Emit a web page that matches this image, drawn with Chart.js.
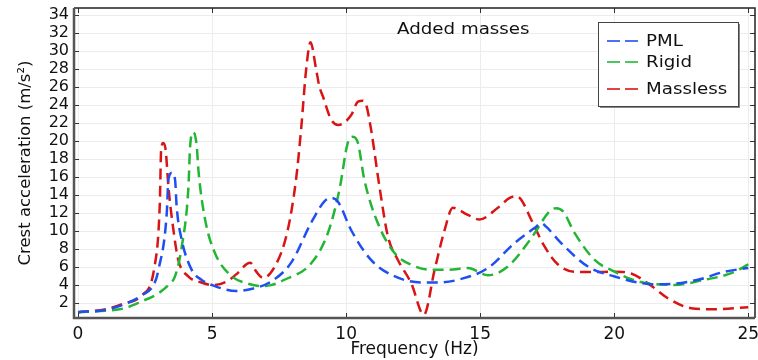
<!DOCTYPE html>
<html>
<head>
<meta charset="utf-8">
<script src="https://cdn.jsdelivr.net/npm/chart.js@4.4.1/dist/chart.umd.min.js"></script>
<style>
  html, body { margin: 0; padding: 0; background: #fff; }
  #wrap { width: 758px; height: 360px; }
</style>
</head>
<body>
<div id="wrap"><canvas id="chart"></canvas></div>
<script>
// PML
const pmlFreq  = [0, 1, 1.75, 2.4, 2.85, 3.0, 3.31, 3.37, 3.5, 3.62, 3.68, 3.87, 4.24, 4.6, 5.1, 5.9, 6.5, 7.2, 7.95, 8.69, 9.19, 9.44, 9.69, 10.19, 10.93, 11.8, 12.8, 13.5, 14.3, 15.29, 16.28, 17.09, 17.28, 17.46, 18.02, 19.02, 20.01, 21.26, 21.9, 23.12, 24.12, 25];
const pmlAccel = [1.0, 1.25, 1.9, 2.9, 4.2, 5.7, 12.0, 15.7, 16.5, 15.7, 12.7, 9.0, 5.7, 4.6, 3.9, 3.35, 3.6, 4.4, 6.5, 10.9, 13.3, 13.7, 13.3, 10.1, 6.8, 5.0, 4.3, 4.3, 4.7, 5.9, 8.67, 10.5, 10.9, 10.5, 8.67, 6.07, 4.96, 4.14, 4.1, 4.6, 5.5, 5.9];

// Rigid
const rigidFreq  = [0, 1, 1.75, 2.38, 3.0, 3.4, 3.62, 3.87, 4.12, 4.18, 4.3, 4.43, 4.49, 4.74, 5.11, 5.73, 6.3, 6.8, 7.2, 7.7, 8.69, 9.32, 9.75, 10.06, 10.25, 10.44, 10.68, 11.18, 11.8, 12.43, 13.17, 13.8, 14.54, 15.29, 16.03, 16.9, 17.59, 17.84, 18.09, 18.52, 19.27, 20.01, 20.63, 21.26, 22.25, 23.37, 24.37, 25];
const rigidAccel = [1.0, 1.15, 1.45, 2.2, 3.1, 4.1, 5.0, 8.3, 15.0, 19.4, 21.0, 19.4, 16.8, 11.3, 7.55, 5.0, 4.2, 3.9, 4.0, 4.6, 6.4, 9.8, 14.6, 19.8, 20.5, 19.8, 15.7, 10.9, 7.6, 6.26, 5.7, 5.7, 5.9, 5.1, 6.07, 9.2, 12.2, 12.56, 12.2, 9.8, 6.8, 5.5, 4.67, 4.2, 4.03, 4.6, 5.33, 6.3];

// Massless
const masslessFreq  = [0, 1, 1.75, 2.35, 2.85, 3.05, 3.1, 3.18, 3.27, 3.37, 3.56, 3.74, 4.1, 4.6, 5.05, 5.6, 5.9, 6.42, 6.65, 6.9, 7.4, 7.82, 8.13, 8.32, 8.51, 8.67, 8.88, 9.0, 9.13, 9.44, 9.71, 10.19, 10.44, 10.62, 10.75, 10.93, 11.24, 11.56, 11.93, 12.43, 12.9, 13.3, 13.67, 13.98, 14.54, 14.97, 15.66, 16.1, 16.34, 16.53, 16.9, 17.4, 17.9, 18.5, 19.2, 20.0, 20.63, 21.26, 22.0, 22.87, 23.74, 25];
const masslessAccel = [1.0, 1.3, 2.0, 2.8, 6.0, 13.0, 19.0, 19.8, 19.0, 15.0, 10.1, 6.8, 5.0, 4.3, 4.0, 4.5, 5.2, 6.5, 5.5, 4.8, 6.4, 10.1, 15.7, 21.3, 28.0, 31.0, 28.0, 26.1, 25.0, 22.4, 21.8, 22.9, 24.4, 24.5, 24.0, 21.3, 15.0, 9.4, 6.8, 4.2, 0.7, 5.7, 10.1, 12.6, 11.8, 11.3, 12.6, 13.7, 13.9, 13.5, 11.3, 8.3, 6.3, 5.5, 5.45, 5.5, 5.3, 4.2, 2.55, 1.44, 1.33, 1.55];

const seriesNames = ["PML", "Rigid", "Massless"];
const seriesColors = ["#1f4ff0", "#22b634", "#d81414"];
const xTicks = [0, 5, 10, 15, 20, 25];
const yTicks = [2, 4, 6, 8, 10, 12, 14, 16, 18, 20, 22, 24, 26, 28, 30, 32, 34];

const FONT = "DejaVu Sans";

function toPoints(xs, ys) {
    return xs.map((x, i) => ({ x: x, y: ys[i] }));
}

function lineSet(label, xs, ys, color) {
    return {
        label: label,
        data: toPoints(xs, ys),
        borderColor: color,
        borderWidth: 2.5,
        borderDash: [11, 6],
        pointRadius: 0,
        fill: false,
        cubicInterpolationMode: "monotone"
    };
}

// frame, inward ticks, legend box and the "Added masses" note
const decorations = {
    id: "decorations",
    afterDraw(chart) {
        const ctx = chart.ctx;
        const a = chart.chartArea;
        const x = chart.scales.x, y = chart.scales.y;
        ctx.save();

        ctx.strokeStyle = "#333";
        ctx.lineWidth = 1;
        ctx.beginPath();
        yTicks.forEach(v => {
            const py = Math.round(y.getPixelForValue(v)) + 0.5;
            ctx.moveTo(a.left, py); ctx.lineTo(a.left + 5, py);
            ctx.moveTo(a.right - 5, py); ctx.lineTo(a.right, py);
        });
        xTicks.forEach(v => {
            const px = Math.round(x.getPixelForValue(v)) + 0.5;
            ctx.moveTo(px, a.bottom); ctx.lineTo(px, a.bottom - 5);
            ctx.moveTo(px, a.top); ctx.lineTo(px, a.top + 5);
        });
        ctx.stroke();

        // top and right edges
        ctx.strokeStyle = "#222";
        ctx.lineWidth = 1.5;
        ctx.beginPath();
        ctx.moveTo(a.left, a.top); ctx.lineTo(a.right, a.top); ctx.lineTo(a.right, a.bottom);
        ctx.stroke();
        // left and bottom edges
        ctx.strokeStyle = "#555";
        ctx.lineWidth = 2.5;
        ctx.beginPath();
        ctx.moveTo(a.left, a.top); ctx.lineTo(a.left, a.bottom); ctx.lineTo(a.right, a.bottom);
        ctx.stroke();

        // note
        ctx.fillStyle = "#111";
        ctx.font = "16px '" + FONT + "'";
        ctx.textBaseline = "middle";
        ctx.save();
        ctx.translate(397, 30);
        ctx.scale(1.14, 1);
        ctx.fillText("Added masses", 0, 0);
        ctx.restore();

        // legend box
        const bx = 598, by = 22, bw = 140, bh = 84;
        ctx.fillStyle = "#888";
        ctx.fillRect(bx + 2, by + 2, bw, bh);
        ctx.fillStyle = "#fff";
        ctx.fillRect(bx, by, bw, bh);
        ctx.strokeStyle = "#444";
        ctx.lineWidth = 1;
        ctx.strokeRect(bx + 0.5, by + 0.5, bw, bh);

        const rows = [41, 62, 89];
        seriesNames.forEach((name, i) => {
            ctx.strokeStyle = seriesColors[i];
            ctx.globalAlpha = 0.8;
            ctx.lineWidth = 2;
            ctx.beginPath();
            ctx.moveTo(607, rows[i]); ctx.lineTo(620, rows[i]);
            ctx.moveTo(625, rows[i]); ctx.lineTo(638, rows[i]);
            ctx.stroke();
            ctx.globalAlpha = 1;
            ctx.fillStyle = "#111";
            ctx.save();
            ctx.translate(646, rows[i] + 1);
            ctx.scale(1.14, 1);
            ctx.fillText(name, 0, 0);
            ctx.restore();
        });

        ctx.restore();
    }
};

new Chart(document.getElementById("chart"), {
    type: "line",
    data: {
        datasets: [
            lineSet(seriesNames[0], pmlFreq, pmlAccel, seriesColors[0]),
            lineSet(seriesNames[1], rigidFreq, rigidAccel, seriesColors[1]),
            lineSet(seriesNames[2], masslessFreq, masslessAccel, seriesColors[2])
        ]
    },
    options: {
        responsive: true,
        maintainAspectRatio: false,
        animation: false,
        layout: { padding: { top: 8, right: 3, left: 0, bottom: 0 } },
        plugins: {
            legend: { display: false },
            tooltip: { enabled: false }
        },
        scales: {
            x: {
                type: "linear",
                min: -0.15,
                max: 25.25,
                afterBuildTicks: s => { s.ticks = xTicks.map(v => ({ value: v })); },
                afterFit: s => { s.height = 42; s.paddingLeft = 0; s.paddingRight = 0; },
                grid: { color: "#ececec", drawTicks: false },
                border: { display: false },
                ticks: { color: "#111", padding: 6, maxRotation: 0, autoSkip: false, font: { family: FONT, size: 17 } },
                title: {
                    display: true,
                    text: "Frequency (Hz)",
                    color: "#111",
                    font: { family: FONT, size: 17 },
                    padding: { top: 0, bottom: 0 }
                }
            },
            y: {
                min: 0.35,
                max: 34.8,
                afterBuildTicks: s => { s.ticks = yTicks.map(v => ({ value: v })); },
                afterFit: s => { s.width = 74; s.paddingTop = 0; s.paddingBottom = 0; },
                grid: { color: "#ececec", drawTicks: false },
                border: { display: false },
                ticks: { color: "#111", padding: 5, autoSkip: false, font: { family: FONT, size: 16 } },
                title: {
                    display: true,
                    text: "Crest acceleration (m/s²)",
                    color: "#111",
                    font: { family: FONT, size: 16.5 },
                    padding: { top: 16, bottom: 0 }
                }
            }
        }
    },
    plugins: [decorations]
});
</script>
</body>
</html>
